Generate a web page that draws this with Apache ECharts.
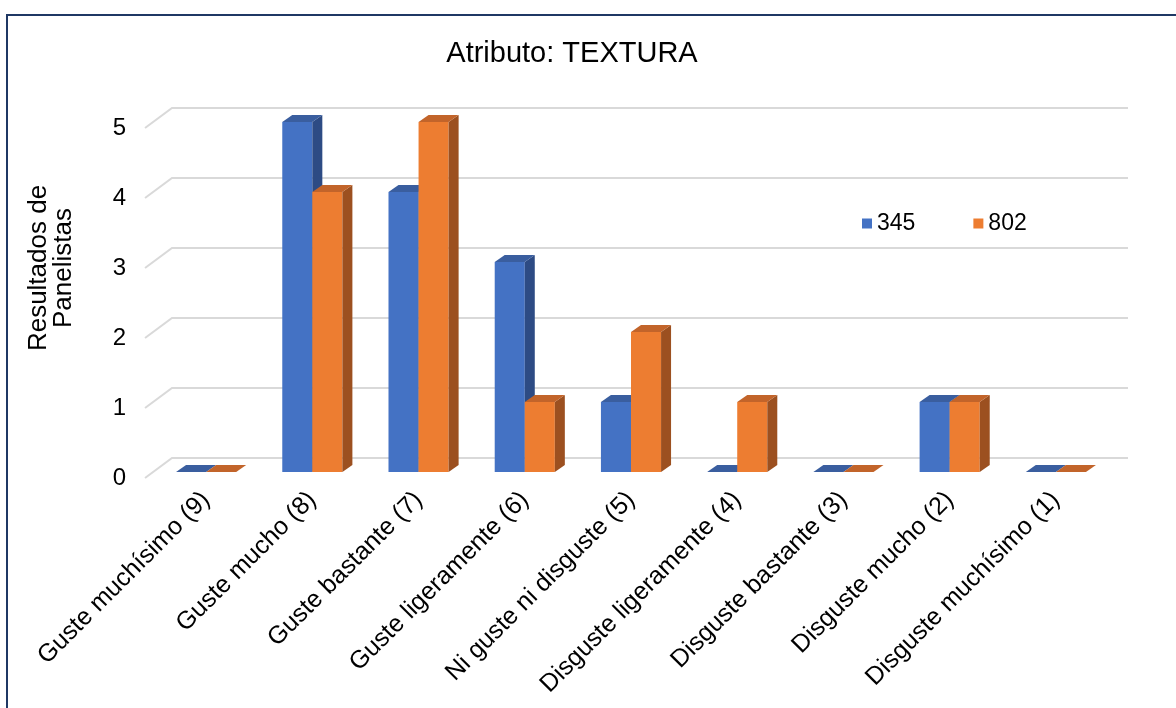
<!DOCTYPE html>
<html>
<head>
<meta charset="utf-8">
<title>Atributo: TEXTURA</title>
<script src="https://cdn.jsdelivr.net/npm/echarts@6/dist/echarts.min.js"></script>
<style>
  html, body { margin: 0; padding: 0; background: #ffffff; }
  #chart { width: 1176px; height: 708px; }
</style>
</head>
<body>
<div id="chart"></div>
<script>
// Panel results for the texture attribute, one count per hedonic category
const categories = [
  'Guste muchísimo (9)', 'Guste mucho (8)', 'Guste bastante (7)',
  'Guste ligeramente (6)', 'Ni guste ni disguste (5)', 'Disguste ligeramente (4)',
  'Disguste bastante (3)', 'Disguste mucho (2)', 'Disguste muchísimo (1)'
];
const seriesNames = ['345', '802'];
const values345 = [0, 5, 4, 3, 1, 0, 0, 1, 0];
const values802 = [0, 4, 5, 1, 2, 1, 0, 1, 0];
const yTicks = [0, 1, 2, 3, 4, 5];
const yTitle = 'Resultados de\nPanelistas';

const FONT = '"Liberation Sans", Arial, sans-serif';
const TEXT = '#000000';
const WALL = [27, -20];       // depth of the floor / back wall
const FACE = [8, -6];         // front face of the bars, behind the front edge
const BAR_DEPTH = [10, -7];   // thickness of each bar
const BAR_RATIO = 0.283;      // bar width as a share of the category band
const LABEL_SHIFT = 8;        // category labels sit a little into the floor

const palette = {
  '345': { front: '#4472C4', top: '#3A5E9F', side: '#2D4B84' },
  '802': { front: '#ED7D31', top: '#C2642A', side: '#9C5020' }
};

// back wall gridlines with the slanted side-wall segment
function gridRender(params, api) {
  const v = api.value(1);
  const band = api.size([1, 0])[0];
  const p0 = api.coord([0, v]);
  const p1 = api.coord([categories.length - 1, v]);
  const xl = p0[0] - band / 2, xr = p1[0] + band / 2, y = p0[1];
  return {
    type: 'polyline',
    silent: true,
    shape: { points: [[xl, y], [xl + WALL[0], y + WALL[1]], [xr + WALL[0], y + WALL[1]]] },
    style: { stroke: '#D9D9D9', lineWidth: 2, fill: null }
  };
}

// pseudo-3D column: front face, top and right side
function barRender(slot) {
  return function (params, api) {
    const i = api.value(0), v = api.value(1);
    const band = api.size([1, 0])[0];
    const w = band * BAR_RATIO;
    const base = api.coord([i, 0]);
    const top = api.coord([i, v]);
    const x = base[0] + FACE[0] + slot * w;
    const yb = base[1] + FACE[1];
    const yt = top[1] + FACE[1];
    const dx = BAR_DEPTH[0], dy = BAR_DEPTH[1];
    const c = palette[params.seriesName];
    const children = [];
    if (yb - yt > 0.5) {
      children.push({ type: 'rect', shape: { x: x, y: yt, width: w, height: yb - yt }, style: { fill: c.front } });
      children.push({ type: 'polygon', shape: { points: [[x + w, yt], [x + w + dx, yt + dy], [x + w + dx, yb + dy], [x + w, yb]] }, style: { fill: c.side } });
    }
    children.push({ type: 'polygon', shape: { points: [[x, yt], [x + w, yt], [x + w + dx, yt + dy], [x + dx, yt + dy]] }, style: { fill: c.top } });
    return { type: 'group', children: children };
  };
}

const chart = echarts.init(document.getElementById('chart'), null, { renderer: 'canvas' });

const option = {
  backgroundColor: '#ffffff',
  animation: false,
  textStyle: { fontFamily: FONT, color: TEXT },
  title: {
    text: 'Atributo: TEXTURA',
    left: 567,
    top: 34,
    textAlign: 'center',
    textStyle: { fontFamily: FONT, fontSize: 29, fontWeight: 'normal', color: TEXT }
  },
  legend: {
    data: seriesNames,
    left: 857,
    top: 207,
    icon: 'rect',
    itemWidth: 10,
    itemHeight: 10,
    itemGap: 58,
    textStyle: { fontFamily: FONT, fontSize: 23, color: TEXT }
  },
  grid: [
    { left: 145, right: 75, top: 128, bottom: 230 },
    { left: 145 + LABEL_SHIFT, right: 75 - LABEL_SHIFT, top: 128, bottom: 230 }
  ],
  xAxis: [
    {
      type: 'category', gridIndex: 0, data: categories,
      axisLine: { show: false }, axisTick: { show: false }, axisLabel: { show: false }, splitLine: { show: false }
    },
    {
      type: 'category', gridIndex: 1, data: categories,
      axisLine: { show: false }, axisTick: { show: false }, splitLine: { show: false },
      axisLabel: {
        interval: 0, rotate: 45, margin: 18,
        fontFamily: FONT, fontSize: 25, color: TEXT
      }
    }
  ],
  yAxis: [
    {
      type: 'value', gridIndex: 0, min: 0, max: 5, interval: 1,
      axisLine: { show: false }, axisTick: { show: false }, splitLine: { show: false },
      axisLabel: { margin: 19, fontFamily: FONT, fontSize: 24, color: TEXT }
    },
    {
      type: 'value', gridIndex: 1, min: 0, max: 5, interval: 1, show: false
    }
  ],
  series: [
    {
      type: 'custom', name: 'grid', xAxisIndex: 0, yAxisIndex: 0, z: 1, silent: true,
      renderItem: gridRender,
      data: yTicks.map(function (v) { return [0, v]; })
    },
    {
      type: 'custom', name: seriesNames[0], xAxisIndex: 0, yAxisIndex: 0, z: 2,
      itemStyle: { color: palette['345'].front },
      renderItem: barRender(-1),
      encode: { x: 0, y: 1 },
      data: values345.map(function (v, i) { return [i, v]; })
    },
    {
      type: 'custom', name: seriesNames[1], xAxisIndex: 0, yAxisIndex: 0, z: 2,
      itemStyle: { color: palette['802'].front },
      renderItem: barRender(0),
      encode: { x: 0, y: 1 },
      data: values802.map(function (v, i) { return [i, v]; })
    }
  ],
  graphic: [
    {
      // vertical axis title
      type: 'text', silent: true,
      x: 51, y: 268, rotation: Math.PI / 2,
      style: {
        text: yTitle, fontFamily: FONT, fontSize: 26, lineHeight: 25,
        fill: TEXT, align: 'center', verticalAlign: 'middle'
      }
    },
    {
      // frame around the chart area
      type: 'rect', silent: true, z: 100,
      shape: { x: 7, y: 15, width: 1300, height: 900 },
      style: { fill: null, stroke: '#1F3864', lineWidth: 2 }
    }
  ]
};

chart.setOption(option);
</script>
</body>
</html>
